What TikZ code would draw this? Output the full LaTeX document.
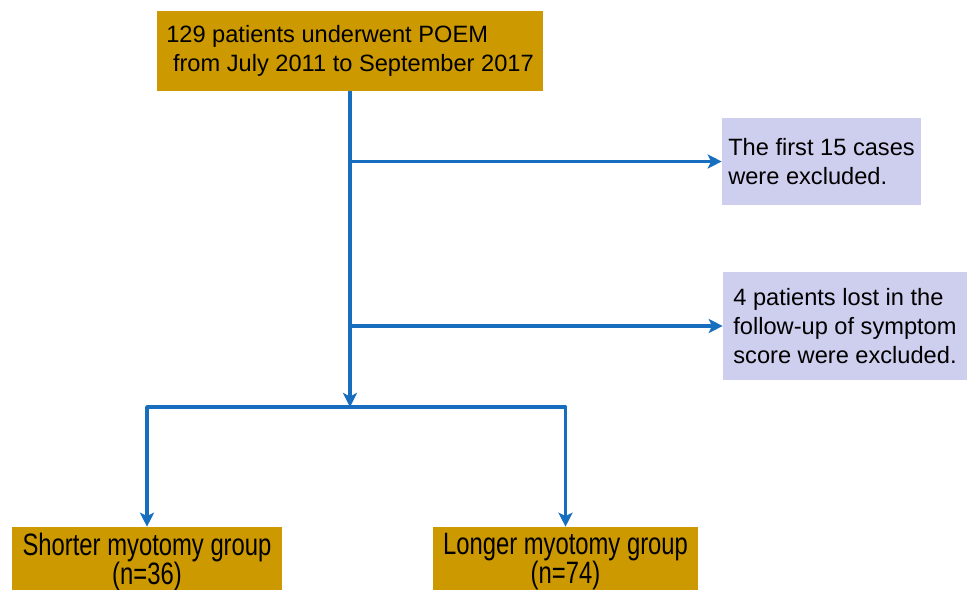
\documentclass[tikz,border=0pt]{standalone}
\usepackage{fontspec}
\setmainfont{Liberation Sans}
\newfontfamily\tallfont[FakeStretch=0.77]{Liberation Sans}
\usetikzlibrary{arrows.meta}
\definecolor{poemgold}{RGB}{204,153,0}
\definecolor{excllilac}{RGB}{206,206,238}
\definecolor{flowblue}{RGB}{24,110,190}
\tikzset{
  goldbox/.style={fill=poemgold, inner sep=0pt},
  lilacbox/.style={fill=excllilac, inner sep=0pt, align=left},
  boxfont/.style={font=\fontsize{16.8}{20.5}\selectfont},
  groupfont/.style={font=\tallfont\fontsize{22}{20.6}\selectfont},
  flow/.style={draw=flowblue, line width=2.6pt},
}
\begin{document}
\begin{tikzpicture}[x=0.025cm, y=-0.025cm, line join=round, >={Stealth[length=10pt,width=10pt,inset=2.5pt]}]
\useasboundingbox (0,0) rectangle (971,590);
\clip (0,0) rectangle (971,590);
\node[goldbox, boxfont, align=left, minimum width=9.65cm, minimum height=2cm] (poem) at (350,51)
  {129 patients underwent POEM\\\hspace*{0.17cm}from July 2011 to September 2017};
\node[lilacbox, boxfont, minimum width=4.975cm, minimum height=2.175cm] (first) at (821.5,161.5)
  {The first 15 cases\\were excluded.};
\node[lilacbox, boxfont, minimum width=6.1cm, minimum height=2.7cm] (lost) at (845,326)
  {4 patients lost in the\\follow-up of symptom\\score were excluded.};
\node[goldbox, groupfont, align=center, minimum width=6.75cm, minimum height=1.75cm] (short) at (147,562)
  {Shorter myotomy group\\(n=36)};
\node[goldbox, groupfont, align=center, minimum width=6.625cm, minimum height=1.75cm] (long) at (565.5,562)
  {Longer myotomy group\\(n=74)};
\coordinate (split) at (350,407);
\draw[flow,->] (poem.south) -- (split);
\draw[flow,->] (poem.south |- first.west) -- (first.west);
\draw[flow,->] (poem.south |- lost.west) -- (lost.west);
\draw[flow,->] (split) -| (short.north);
\draw[flow,->] (split) -| (long.north);
\end{tikzpicture}
\end{document}
